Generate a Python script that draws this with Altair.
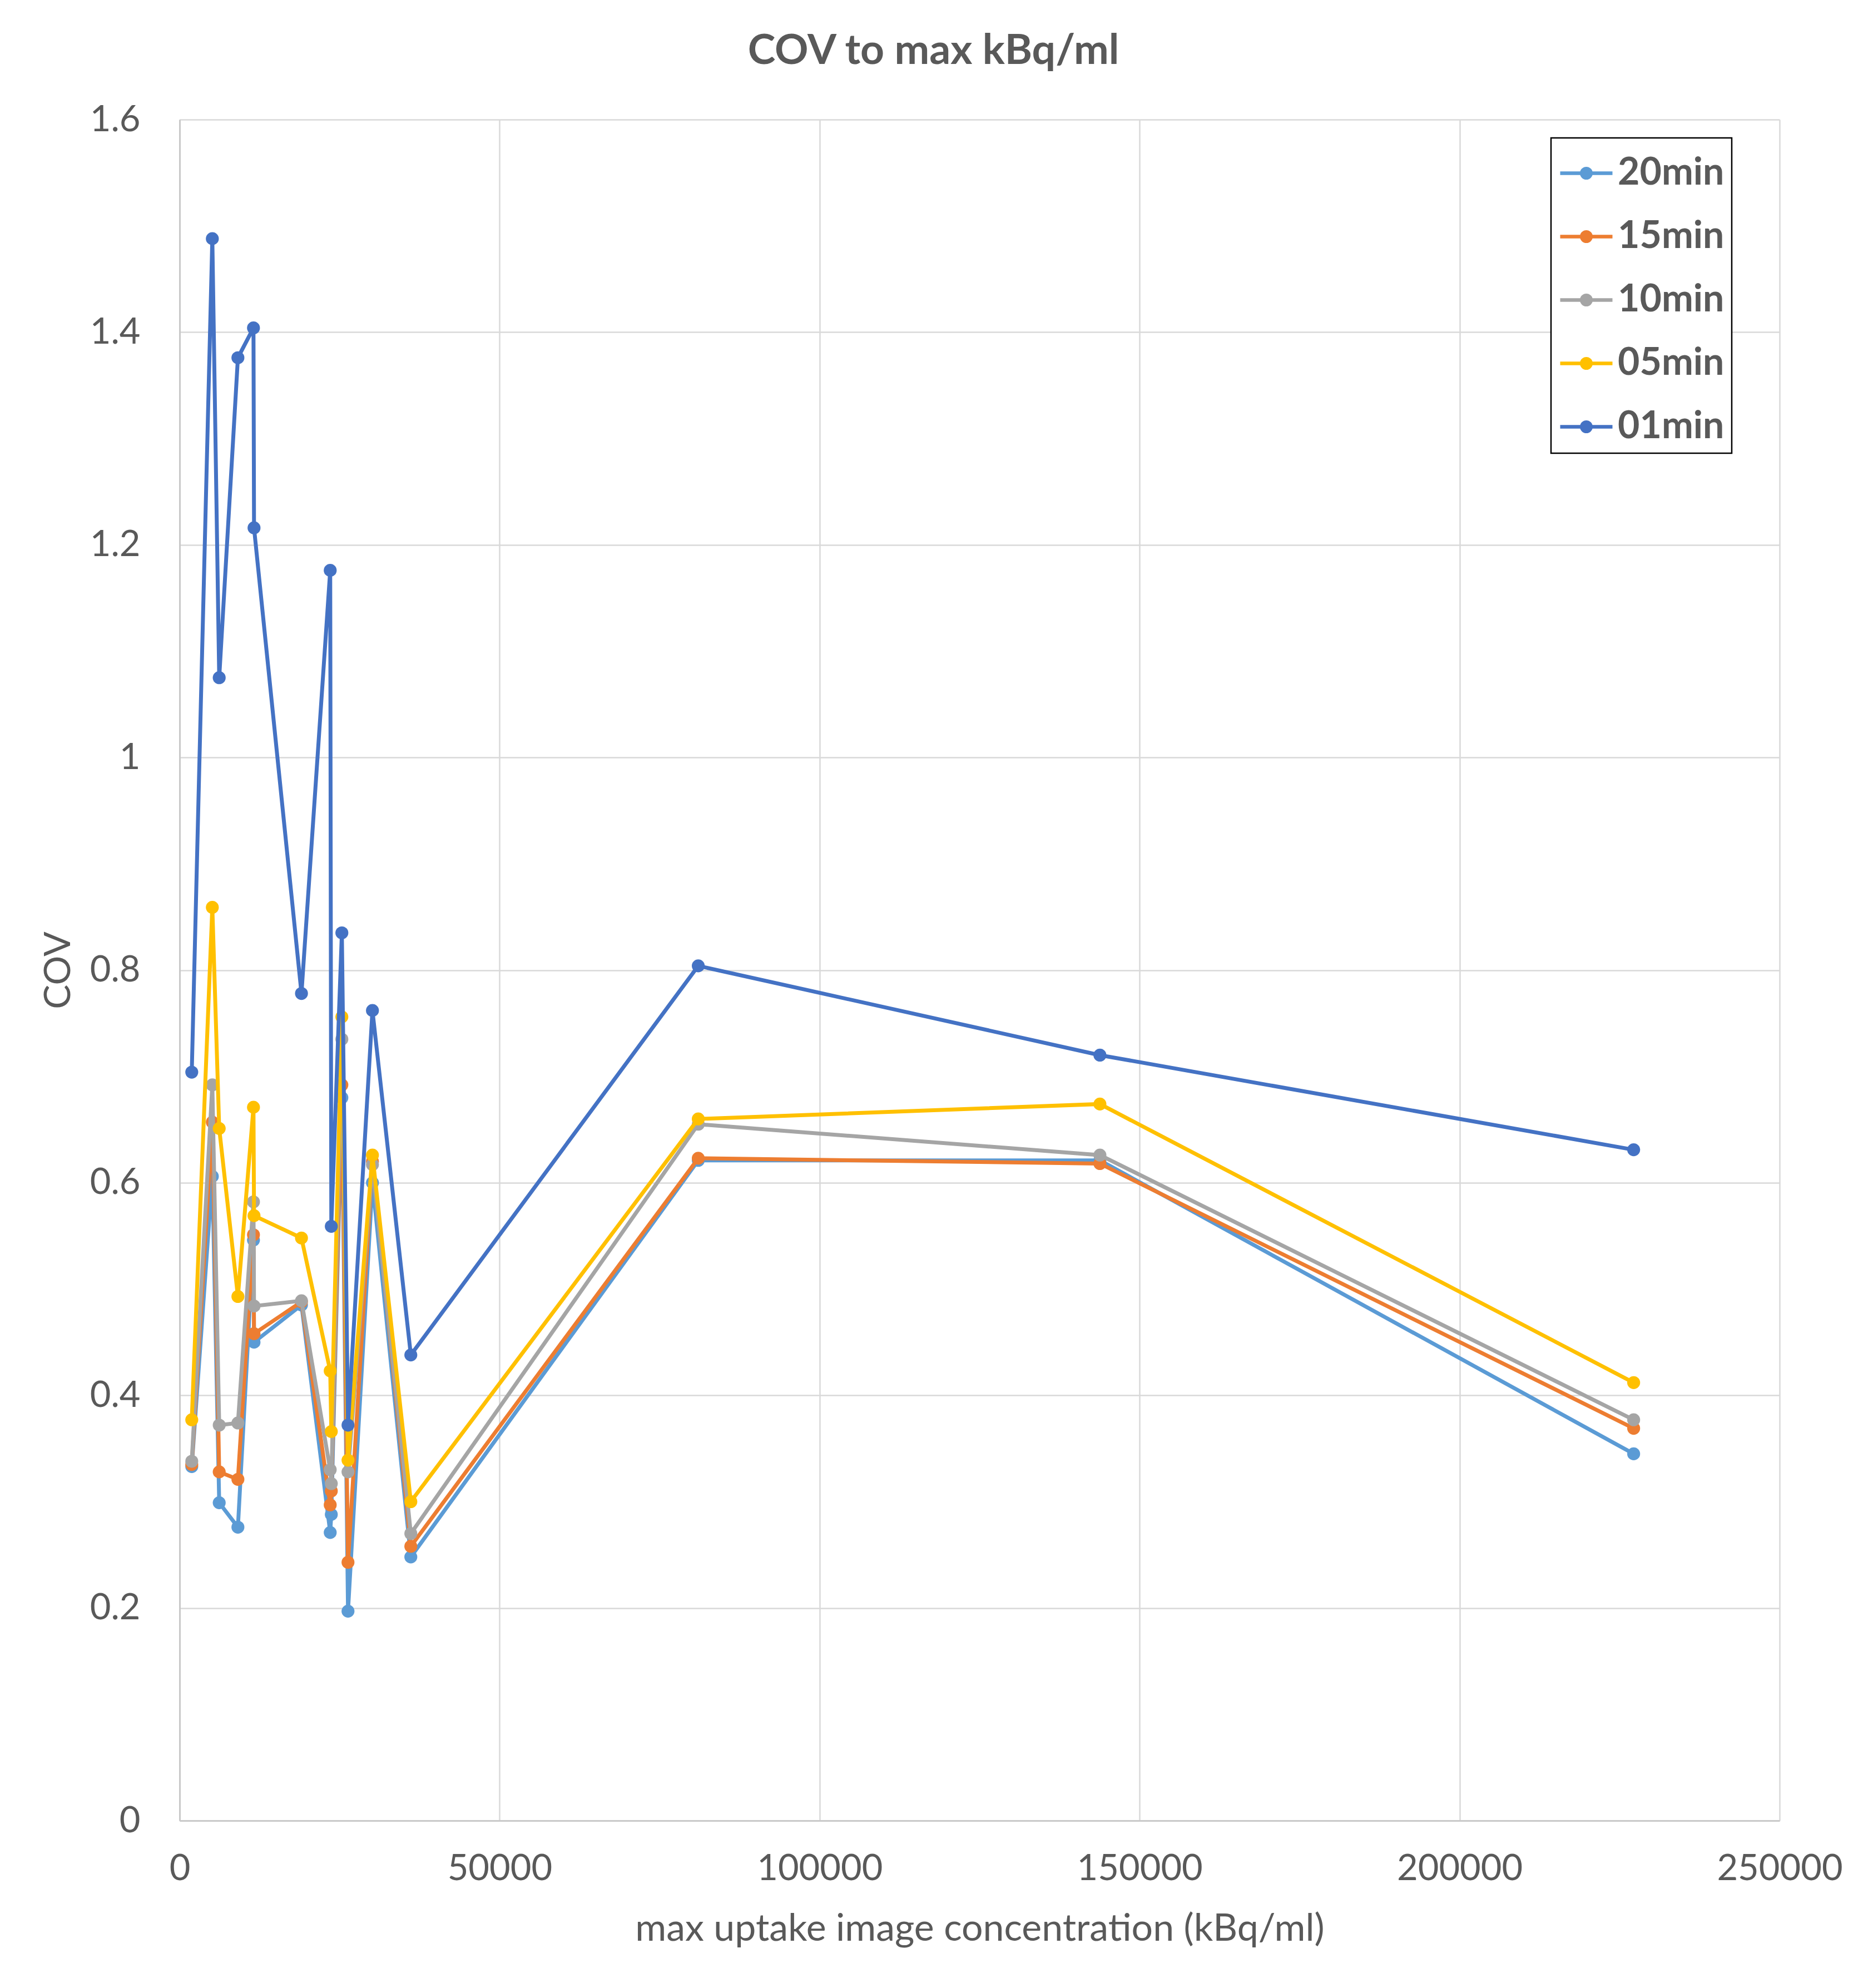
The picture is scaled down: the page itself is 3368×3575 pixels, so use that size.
import altair as alt
import pandas as pd

# max uptake image concentration (kBq/ml), shared by all series
x_conc = [1896, 5110, 6186, 9107, 11540, 11627, 19040, 23530, 23700,
          25350, 26310, 30130, 36125, 81040, 143800, 227200]

series_names = ["20min", "15min", "10min", "05min", "01min"]
series_colors = ["#5B9BD5", "#ED7D31", "#A5A5A5", "#FFC000", "#4472C4"]

cov_20min = [0.333, 0.606, 0.299, 0.276, 0.546, 0.450, 0.485, 0.271, 0.288,
             0.680, 0.197, 0.600, 0.248, 0.621, 0.621, 0.345]
cov_15min = [0.335, 0.657, 0.328, 0.321, 0.551, 0.458, 0.488, 0.297, 0.310,
             0.692, 0.243, 0.620, 0.258, 0.623, 0.618, 0.369]
cov_10min = [0.338, 0.692, 0.372, 0.374, 0.582, 0.484, 0.489, 0.330, 0.317,
             0.735, 0.328, 0.617, 0.270, 0.655, 0.626, 0.377]
cov_05min = [0.377, 0.859, 0.651, 0.493, 0.671, 0.569, 0.548, 0.423, 0.366,
             0.756, 0.339, 0.626, 0.300, 0.660, 0.674, 0.412]
cov_01min = [0.704, 1.488, 1.075, 1.376, 1.404, 1.216, 0.778, 1.176, 0.559,
             0.835, 0.372, 0.762, 0.438, 0.804, 0.720, 0.631]

x_ticks = [0, 50000, 100000, 150000, 200000, 250000]
y_ticks = [0, 0.2, 0.4, 0.6, 0.8, 1.0, 1.2, 1.4, 1.6]

all_series = [cov_20min, cov_15min, cov_10min, cov_05min, cov_01min]
rows = []
for name, vals in zip(series_names, all_series):
    for xv, yv in zip(x_conc, vals):
        rows.append({"conc": xv, "cov": yv, "series": name})
df = pd.DataFrame(rows)

TEXT = "#595959"
FONT = "Lato"

color_scale = alt.Scale(domain=series_names, range=series_colors)

# legend symbol: horizontal line with a solid dot (rings fill the dot)
legend_path = ("M-1,0H1"
               "M-0.1755,0a0.1755,0.1755 0 1,0 0.351,0a0.1755,0.1755 0 1,0 -0.351,0"
               "M-0.053,0a0.053,0.053 0 1,0 0.106,0a0.053,0.053 0 1,0 -0.106,0")

legend = alt.Legend(
    title=None, orient="none", legendX=2466, legendY=33,
    symbolType=legend_path, symbolSize=8836, symbolStrokeWidth=6.5,
    labelFont=FONT, labelFontSize=68, labelFontWeight="bold", labelColor=TEXT,
    labelLimit=0,
    padding=13, rowPadding=29, labelOffset=6,
    strokeColor="black", fillColor="white",
)

x_enc = alt.X("conc:Q", scale=alt.Scale(domain=[0, 250000], nice=False),
              axis=alt.Axis(values=x_ticks, format="d",
                            title="max uptake image concentration (kBq/ml)",
                            labelPadding=55, titlePadding=42,
                            titleFontSize=68,
                            labelFlush=False, labelOverlap=False))
y_enc = alt.Y("cov:Q", scale=alt.Scale(domain=[0, 1.6], nice=False),
              axis=alt.Axis(values=y_ticks, format="~g", title="COV",
                            labelPadding=71, titlePadding=22,
                            titleFontSize=66,
                            labelOverlap=False))

base = alt.Chart(df)
layers = []
for name, col in zip(series_names, series_colors):
    sub = base.transform_filter(alt.datum.series == name)
    layers.append(
        sub.mark_line(strokeWidth=7).encode(
            x=x_enc, y=y_enc,
            color=alt.Color("series:N", scale=color_scale, legend=legend),
        )
    )
    layers.append(
        sub.mark_point(filled=True, size=540, opacity=1, strokeWidth=0,
                       color=col, shape="circle").encode(x=x_enc, y=y_enc)
    )

chart = alt.layer(*layers).properties(
    width=2877, height=3059,
    autosize=alt.AutoSizeParams(type="none"),
    padding={"left": 315, "top": 207, "right": 150, "bottom": 280},
    title=alt.TitleParams("COV to max kBq/ml", font=FONT, fontSize=75,
                          fontWeight="bold", color=TEXT, anchor="middle",
                          frame="group", dx=-83, offset=52),
).configure_view(stroke=None).configure_axis(
    labelFont=FONT, labelFontSize=65, labelColor=TEXT, labelLimit=0,
    titleFont=FONT, titleFontWeight="normal", titleColor=TEXT,
    ticks=False, tickSize=0,
    domainColor="#C9C9C9", domainWidth=3,
    gridColor="#D9D9D9", gridWidth=2.5,
).configure_legend(strokeWidth=2.5)

chart.save("out.html", embed_options={"renderer": "svg", "actions": False})
